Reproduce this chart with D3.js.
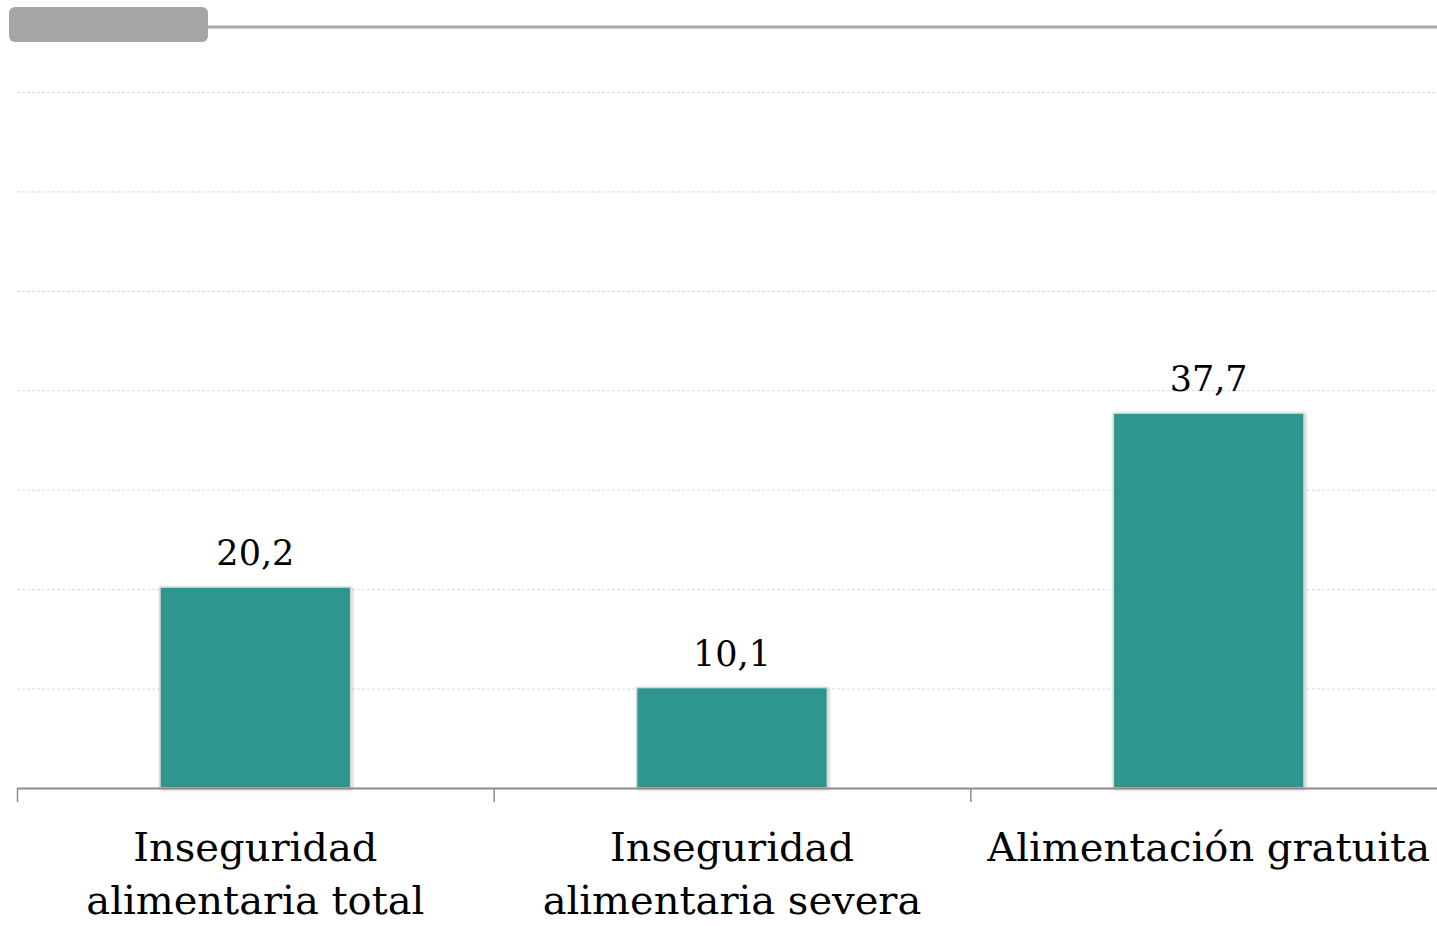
<!DOCTYPE html>
<html>
<head>
<meta charset="utf-8">
<script src="https://cdn.jsdelivr.net/npm/d3@7"></script>
<style>
  body { margin: 0; background: #fff; }
  svg { display: block; }
</style>
</head>
<body>
<svg id="chart" width="1437" height="926"></svg>
<script>
var categories = [
  ['Inseguridad', 'alimentaria total'],
  ['Inseguridad', 'alimentaria severa'],
  ['Alimentación gratuita']
];
var values = [20.2, 10.1, 37.7];
var valueLabels = ['20,2', '10,1', '37,7'];
var yTicks = [10, 20, 30, 40, 50, 60, 70];

var svg = d3.select('#chart');
var serif = '"DejaVu Serif", "Liberation Serif", serif';

// header tab and rule
svg.append('line')
  .attr('x1', 200).attr('x2', 1437)
  .attr('y1', 27).attr('y2', 27)
  .attr('stroke', '#a6a6a6').attr('stroke-width', 3);
svg.append('rect')
  .attr('x', 9).attr('y', 7).attr('width', 199).attr('height', 35)
  .attr('rx', 6).attr('fill', '#a6a6a6');

var x = d3.scaleBand()
  .domain(d3.range(values.length))
  .range([17, 1447])
  .paddingInner(0.6).paddingOuter(0.3);
var xTicks = d3.scaleBand().domain(d3.range(values.length)).range([17, 1447]);

var y = d3.scaleLinear().domain([0, 70]).range([788, 92]);

// gridlines
svg.append('g').selectAll('line')
  .data(yTicks)
  .enter().append('line')
  .attr('x1', 17).attr('x2', 1437)
  .attr('y1', (d) => y(d) + 0.5).attr('y2', (d) => y(d) + 0.5)
  .attr('stroke', '#d9d9d9')
  .attr('stroke-dasharray', '3,2');

// bar shadow filter
var defs = svg.append('defs');
var f = defs.append('filter').attr('id', 'shadow')
  .attr('x', '-10%').attr('y', '-10%').attr('width', '120%').attr('height', '120%');
f.append('feDropShadow').attr('dx', 1).attr('dy', 1).attr('stdDeviation', 1.5)
  .attr('flood-color', '#000').attr('flood-opacity', 0.25);

svg.append('g').selectAll('rect')
  .data(values)
  .enter().append('rect')
  .attr('x', (d, i) => x(i))
  .attr('y', (d) => y(d))
  .attr('width', x.bandwidth())
  .attr('height', (d) => y(0) - y(d))
  .attr('fill', '#2d968f')
  .attr('stroke', '#d6d6d6')
  .attr('stroke-width', 1.5)
  .attr('filter', 'url(#shadow)');

// value labels
svg.append('g').selectAll('text')
  .data(values)
  .enter().append('text')
  .attr('x', (d, i) => x(i) + x.bandwidth() / 2)
  .attr('y', (d) => y(d) - 22)
  .attr('text-anchor', 'middle')
  .attr('font-family', serif)
  .attr('font-size', 35)
  .attr('fill', '#000')
  .text((d, i) => valueLabels[i]);

// x axis
var axis = svg.append('g');
axis.append('line')
  .attr('x1', 17).attr('x2', 1437)
  .attr('y1', 788.5).attr('y2', 788.5)
  .attr('stroke', '#8c8c8c').attr('stroke-width', 2);
axis.selectAll('line.tick')
  .data(d3.range(values.length))
  .enter().append('line')
  .attr('class', 'tick')
  .attr('x1', (d) => xTicks(d) + 0.5).attr('x2', (d) => xTicks(d) + 0.5)
  .attr('y1', 788).attr('y2', 802)
  .attr('stroke', '#8c8c8c').attr('stroke-width', 1.5);

var labels = svg.append('g').selectAll('text')
  .data(categories)
  .enter().append('text')
  .attr('x', (d, i) => x(i) + x.bandwidth() / 2)
  .attr('y', 861)
  .attr('text-anchor', 'middle')
  .attr('font-family', serif)
  .attr('font-size', 40)
  .attr('fill', '#000');
labels.selectAll('tspan')
  .data((d) => d)
  .enter().append('tspan')
  .attr('x', function() { return this.parentNode.getAttribute('x'); })
  .attr('dy', (d, i) => i === 0 ? 0 : 53)
  .text((d) => d);
</script>
</body>
</html>
